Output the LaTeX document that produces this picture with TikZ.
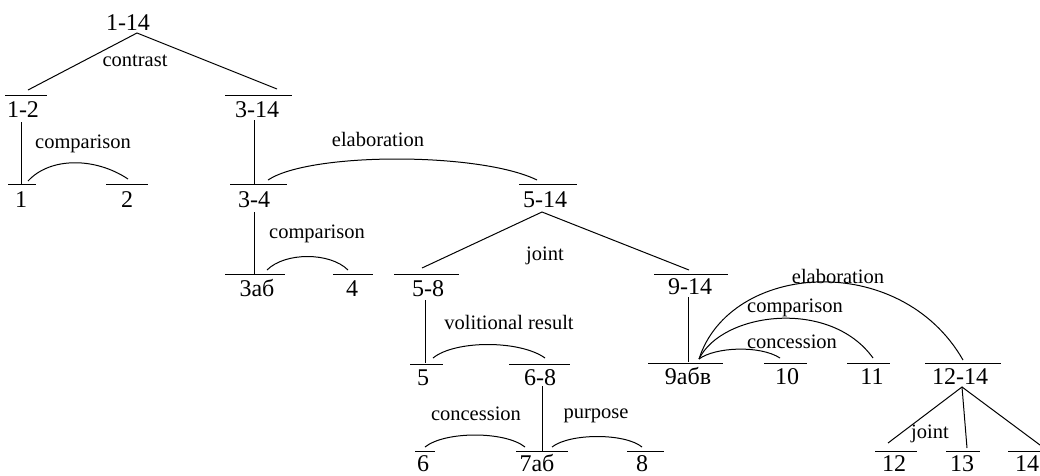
\documentclass[tikz,border=0pt]{standalone}
\usepackage{fontspec}
\setmainfont{Liberation Serif}
\tikzset{
  num/.style={font=\fontsize{24}{26}\selectfont, inner sep=0pt, anchor=base},
  rel/.style={font=\fontsize{20.5}{23}\selectfont, inner sep=0pt},
  ln/.style={line width=1pt, black},
  arc/.style={line width=1pt, black}
}
\begin{document}
\begin{tikzpicture}[x=1pt,y=-1pt]
\useasboundingbox (0,0) rectangle (1040,475);
% ---- bars (unit tops) as named coordinates
\foreach \n/\a/\b/\y in {b12/5/47/95, b314/225/292/95, b1/8/36/184, b2/106/148/184,
  b34/230/287/184, b514/519/577/184, b3ab/225/285/274, b4/333/373/274,
  b58/394/459/274, b914/654/728/274, b5/410/443/364, b68/509/570/364,
  b6/415/435/451, b7ab/516/568/451, b8/627/664/451, b9abv/648/723/363,
  b10/764/807/363, b11/847/890/363, b1214/925/1001/363, b12u/875/917/451,
  b13/946/980/451, b14/1008/1040/451}{
  \coordinate (\n L) at (\a,\y);
  \coordinate (\n R) at (\b,\y);
  \draw[ln] (\n L) -- (\n R);
}
% ---- unit labels
\node[num] (t114) at (128,30) {1-14};
\node[num] (t12) at (23,117) {1-2};
\node[num] (t314) at (257,117) {3-14};
\node[num] (t1) at (21,207) {1};
\node[num] (t2) at (127,207) {2};
\node[num] (t34) at (254,207) {3-4};
\node[num] (t514) at (545,207) {5-14};
\node[num] (t3ab) at (257,296) {3аб};
\node[num] (t4) at (352,296) {4};
\node[num] (t58) at (428,296) {5-8};
\node[num] (t914) at (690,294) {9-14};
\node[num] (t5) at (423,385) {5};
\node[num] (t68) at (540,385) {6-8};
\node[num] (t9abv) at (688,384) {9абв};
\node[num] (t10) at (787,384) {10};
\node[num] (t11) at (872,384) {11};
\node[num] (t1214) at (960,384) {12-14};
\node[num] (t6) at (423,471) {6};
\node[num] (t7ab) at (537,471) {7аб};
\node[num] (t8) at (642,471) {8};
\node[num] (t12u) at (894,471) {12};
\node[num] (t13) at (962,471) {13};
\node[num] (t14) at (1027,471) {14};
% ---- relation labels
\node[rel] (rcon) at (135,61) {contrast};
\node[rel] (rcmp1) at (83,144) {comparison};
\node[rel] (relab1) at (378,139) {elaboration};
\node[rel] (rcmp2) at (317,234) {comparison};
\node[rel] (rjoint1) at (545,256) {joint};
\node[rel] (rvol) at (509,322) {volitional result};
\node[rel] (rconc1) at (476,414) {concession};
\node[rel] (rpurp) at (596,416) {purpose};
\node[rel] (relab2) at (838,276) {elaboration};
\node[rel] (rcmp3) at (795,308) {comparison};
\node[rel] (rconc2) at (792,342) {concession};
\node[rel] (rjoint2) at (930,434) {joint};
% ---- connector points
\coordinate (a114) at (137,33);
\coordinate (e12) at (28,90);
\coordinate (e314) at (277,89);
\coordinate (a514) at (542,212);
\coordinate (e58) at (422,268);
\coordinate (e914) at (689,270);
\coordinate (a1214) at (962,387);
\coordinate (e12u) at (888,443);
\coordinate (e13) at (967,448);
\coordinate (e14) at (1040,445);
% ---- tree connectors
\draw[ln] (e12) -- (a114) -- (e314);
\draw[ln] (e58) -- (a514) -- (e914);
\draw[ln] (e12u) -- (a1214) -- (e14);
\draw[ln] (a1214) -- (e13);
\draw[ln] (21,122) -- (21,184);
\draw[ln] (254,120) -- (254,184);
\draw[ln] (254,212) -- (254,274);
\draw[ln] (425,300) -- (425,363);
\draw[ln] (542,386) -- (542,451);
\draw[ln] (688,297) -- (688,362);
% ---- relation arcs
\draw[arc] (28,181) .. controls (50,157) and (95,157) .. (128,179);
\draw[arc] (268,180) .. controls (310,152) and (480,152) .. (537,180);
\draw[arc] (267,270) .. controls (285,252) and (330,252) .. (348,270);
\draw[arc] (433,358) .. controls (455,340) and (520,340) .. (545,358);
\draw[arc] (425,447) .. controls (445,431) and (505,431) .. (525,447);
\draw[arc] (552,447) .. controls (570,433) and (625,433) .. (642,447);
\draw[arc] (699,359) .. controls (715,347) and (760,345) .. (780,358);
\draw[arc] (699,359) .. controls (722,312) and (830,298) .. (873,358);
\draw[arc] (699,359) .. controls (730,262) and (900,250) .. (963,360);
\end{tikzpicture}
\end{document}
